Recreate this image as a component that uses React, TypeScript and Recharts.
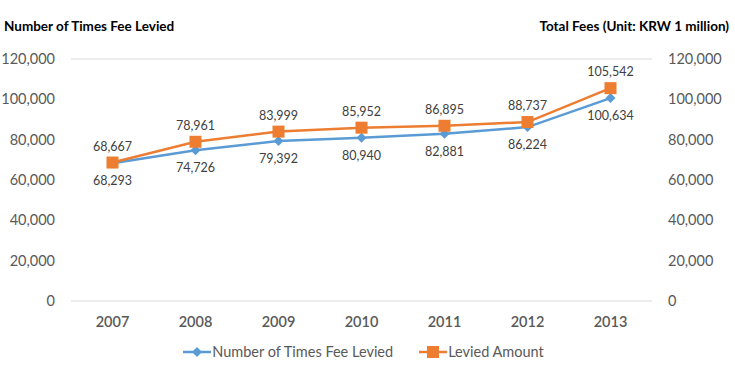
import {CartesianGrid, LabelList, Line, LineChart, XAxis, YAxis} from "recharts";

const years = ['2007', '2008', '2009', '2010', '2011', '2012', '2013'];
const timesLevied = [68293, 74726, 79392, 80940, 82881, 86224, 100634];
const leviedAmount = [68667, 78961, 83999, 85952, 86895, 88737, 105542];
const axisTicks = [0, 20000, 40000, 60000, 80000, 100000, 120000];

const data = years.map((year, i) => ({year, times: timesLevied[i], amount: leviedAmount[i]}));

const BLUE = '#5B9BD5';
const ORANGE = '#ED7D31';
const FONT = 'Lato, "Open Sans", sans-serif';

const fmt = (v: number) => v.toLocaleString('en-US');

const Diamond = (props: any) => {
    const {cx, cy} = props;
    if (cx == null || cy == null) return null;
    const r = 5;
    return <path d={`M${cx},${cy - r}L${cx + r},${cy}L${cx},${cy + r}L${cx - r},${cy}Z`} fill={BLUE}/>;
};

const Square = (props: any) => {
    const {cx, cy} = props;
    if (cx == null || cy == null) return null;
    return <rect x={cx - 6} y={cy - 6} width={12} height={12} fill={ORANGE}/>;
};

const tickStyle = {fontSize: 14.5, fill: '#595959', fontFamily: FONT};
const xTickStyle = {...tickStyle, fontWeight: 600};
const labelStyle = {fontSize: 12.5, fill: '#404040', fontFamily: FONT};

export default function App() {
    return (
        <div style={{position: 'relative', width: 735, height: 373, background: '#fff', fontFamily: FONT}}>
            <style>{`body{margin:0}`}</style>
            <div style={{position: 'absolute', left: 4, top: 18, fontSize: 13.5, fontWeight: 700, color: '#000'}}>
                Number of Times Fee Levied
            </div>
            <div style={{position: 'absolute', right: 6, top: 18, fontSize: 13.5, fontWeight: 700, color: '#000'}}>
                Total Fees (Unit: KRW 1 million)
            </div>
            <LineChart width={735} height={373} data={data} margin={{top: 59, right: 0, bottom: 42, left: 0}}>
                <CartesianGrid vertical={false} stroke="#D9D9D9"/>
                <XAxis dataKey="year" scale="band" axisLine={false} tickLine={false} tickSize={0} tickMargin={16}
                       height={30} tick={xTickStyle}/>
                <YAxis yAxisId="left" domain={[0, 120000]} ticks={axisTicks} axisLine={false} tickLine={false}
                       tickSize={0} tickMargin={16} width={71} tickFormatter={fmt} tick={tickStyle}/>
                <YAxis yAxisId="right" orientation="right" domain={[0, 120000]} ticks={axisTicks} axisLine={false}
                       tickLine={false} tickSize={0} tickMargin={16} width={83} tickFormatter={fmt} tick={tickStyle}/>
                <Line yAxisId="left" dataKey="times" stroke={BLUE} strokeWidth={2.5} dot={<Diamond/>}
                      activeDot={false} isAnimationActive={false}>
                    <LabelList dataKey="times" position="bottom" offset={13} formatter={(v: any) => fmt(v)}
                               style={labelStyle}/>
                </Line>
                <Line yAxisId="right" dataKey="amount" stroke={ORANGE} strokeWidth={2.5} dot={<Square/>}
                      activeDot={false} isAnimationActive={false}>
                    <LabelList dataKey="amount" position="top" offset={12} formatter={(v: any) => fmt(v)}
                               style={labelStyle}/>
                </Line>
            </LineChart>
            <div style={{
                position: 'absolute', top: 343, left: -4, width: 735, display: 'flex', justifyContent: 'center',
                fontSize: 14.5, color: '#595959', gap: 26
            }}>
                <span style={{display: 'flex', alignItems: 'center'}}>
                    <svg width={28} height={12} style={{marginRight: 1}}>
                        <line x1={0} y1={6} x2={28} y2={6} stroke={BLUE} strokeWidth={2.5}/>
                        <path d="M14,1L19,6L14,11L9,6Z" fill={BLUE}/>
                    </svg>
                    Number of Times Fee Levied
                </span>
                <span style={{display: 'flex', alignItems: 'center'}}>
                    <svg width={28} height={12} style={{marginRight: 1}}>
                        <line x1={0} y1={6} x2={28} y2={6} stroke={ORANGE} strokeWidth={2.5}/>
                        <rect x={8} y={0} width={12} height={12} fill={ORANGE}/>
                    </svg>
                    Levied Amount
                </span>
            </div>
        </div>
    );
}
